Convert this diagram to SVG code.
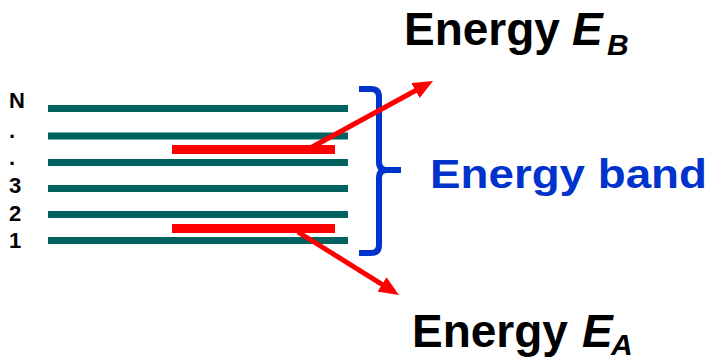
<svg xmlns="http://www.w3.org/2000/svg" width="713" height="360" viewBox="0 0 713 360">
  <defs>
    <marker id="arrowhead" markerUnits="userSpaceOnUse" markerWidth="20" markerHeight="17" refX="8" refY="8.5" orient="auto">
      <path d="M0,0 L20,8.5 L0,17 Z" fill="#ff0000"/>
    </marker>
    <style>
      .level { stroke: #00625e; stroke-width: 7; }
      .sub { stroke: #ff0000; stroke-width: 9; }
      .arrow { stroke: #ff0000; stroke-width: 5; fill: none; marker-end: url(#arrowhead); }
      .brace { stroke: #0033cc; stroke-width: 6; fill: none; stroke-linejoin: round; }
      .idx { font-family: "Liberation Sans", Arial, sans-serif; font-weight: bold; font-size: 22px; fill: #000000; }
      .big { font-family: "Liberation Sans", Arial, sans-serif; font-weight: bold; font-size: 46px; fill: #000000; }
      .sym { font-style: italic; }
      .subscript { font-family: "Liberation Sans", Arial, sans-serif; font-weight: bold; font-style: italic; font-size: 30px; fill: #000000; }
      .band { font-family: "Liberation Sans", Arial, sans-serif; font-weight: bold; font-size: 41px; fill: #0033cc; }
    </style>
  </defs>

  <!-- energy levels of the band -->
  <g id="levels">
    <line class="level" x1="48" y1="108.5" x2="348" y2="108.5"/>
    <line class="level" x1="48" y1="136" x2="348" y2="136"/>
    <line class="level" x1="48" y1="162.5" x2="348" y2="162.5"/>
    <line class="level" x1="48" y1="188.5" x2="348" y2="188.5"/>
    <line class="level" x1="48" y1="214.5" x2="348" y2="214.5"/>
    <line class="level" x1="48" y1="240.5" x2="348" y2="240.5"/>
  </g>

  <!-- level indices -->
  <g id="indices">
    <text class="idx" x="9" y="108">N</text>
    <text class="idx" x="9" y="138">.</text>
    <text class="idx" x="9" y="165">.</text>
    <text class="idx" x="9" y="193">3</text>
    <text class="idx" x="9" y="221">2</text>
    <text class="idx" x="9" y="248">1</text>
  </g>

  <!-- sub-levels inside the band -->
  <g id="sublevels">
    <line class="sub" x1="172" y1="149.5" x2="335" y2="149.5"/>
    <line class="sub" x1="172" y1="228.5" x2="335" y2="228.5"/>
  </g>

  <!-- brace spanning the band -->
  <g id="brace">
    <path class="brace" d="M359,89 H371 Q379,89 379,97 V162 Q379,170 387,170 M379,170 H401"/>
    <path class="brace" d="M387,170 Q379,170 379,178 V245 Q379,253 371,253 H359"/>
  </g>

  <g id="band-label">
    <text class="band" x="430" y="188" textLength="277" lengthAdjust="spacingAndGlyphs">Energy band</text>
  </g>

  <g id="label-EB">
    <text class="big" x="404" y="45">Energy</text>
    <text class="big sym" x="572" y="45">E</text>
    <text class="subscript" x="607" y="55">B</text>
  </g>

  <g id="label-EA">
    <text class="big" x="412" y="347">Energy</text>
    <text class="big sym" x="582" y="347">E</text>
    <text class="subscript" x="611" y="355">A</text>
  </g>

  <!-- transitions out of the band -->
  <g id="connectors">
    <line class="arrow" x1="303" y1="152" x2="422.5" y2="86.8"/>
    <line class="arrow" x1="298" y1="232" x2="388.8" y2="288.6"/>
  </g>
</svg>
